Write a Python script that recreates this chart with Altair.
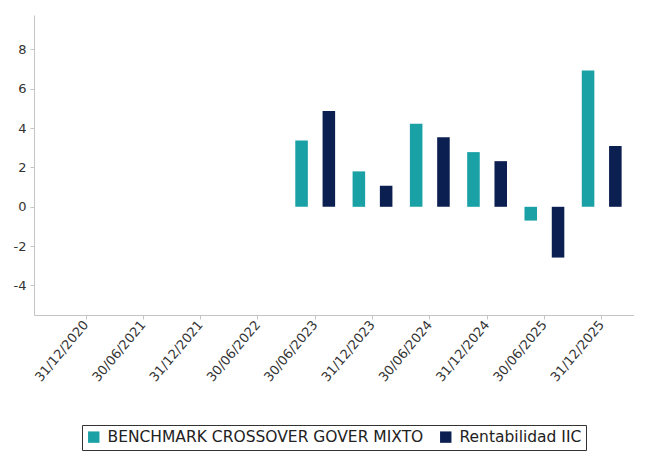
import altair as alt
import pandas as pd

fechas = ["31/12/2020", "30/06/2021", "31/12/2021", "30/06/2022", "30/06/2023",
          "31/12/2023", "30/06/2024", "31/12/2024", "30/06/2025", "31/12/2025"]
series = ["BENCHMARK CROSSOVER GOVER MIXTO", "Rentabilidad IIC"]
colores = ["#19A1A6", "#0B1F51"]

fechas_datos = ["30/06/2023", "31/12/2023", "30/06/2024", "31/12/2024", "30/06/2025", "31/12/2025"]
benchmark = [3.37, 1.80, 4.22, 2.78, -0.70, 6.93]
rentabilidad = [4.87, 1.07, 3.54, 2.32, -2.58, 3.09]

rows = []
for f, b, r in zip(fechas_datos, benchmark, rentabilidad):
    rows.append({"fecha": f, "serie": series[0], "valor": b})
    rows.append({"fecha": f, "serie": series[1], "valor": r})
df = pd.DataFrame(rows)

font = "DejaVu Sans"

chart = alt.Chart(df).mark_bar().encode(
    x=alt.X("fecha:N", sort=fechas, title=None,
            scale=alt.Scale(domain=fechas, paddingInner=0, paddingOuter=0.2356, align=0.865),
            axis=alt.Axis(labelAngle=-50, labelFontSize=13, labelColor="#333", labelFont=font,
                          domainColor="#c4c4c4", tickColor="#c4c4c4", tickSize=4,
                          labelPadding=3, grid=False)),
    xOffset=alt.XOffset("serie:N", sort=series,
                        scale=alt.Scale(domain=series, paddingInner=0.54, paddingOuter=0.32)),
    y=alt.Y("valor:Q", title=None,
            scale=alt.Scale(domain=[-5.5, 9.75], nice=False, zero=False),
            axis=alt.Axis(values=[-4, -2, 0, 2, 4, 6, 8], labelFontSize=13, labelColor="#333",
                          labelExpr="'' + datum.value",
                          labelFont=font, domainColor="#c4c4c4", tickColor="#c4c4c4",
                          tickSize=4, labelPadding=4, grid=False)),
    color=alt.Color("serie:N", sort=series, title=None,
                    scale=alt.Scale(domain=series, range=colores),
                    legend=alt.Legend(orient="none", legendX=48, legendY=410,
                                      direction="horizontal",
                                      symbolType="square", symbolSize=130,
                                      symbolStrokeWidth=0, labelFontSize=15.5,
                                      labelFont=font, labelColor="#222",
                                      strokeColor="#333", padding=4,
                                      columnPadding=14, labelLimit=400,
                                      labelOffset=6)),
).properties(
    width=600, height=300,
    padding={"left": 5, "top": 7, "right": 0, "bottom": 0},
).configure_view(stroke=None)

chart.save("out.html", embed_options={"renderer": "svg", "actions": False})
